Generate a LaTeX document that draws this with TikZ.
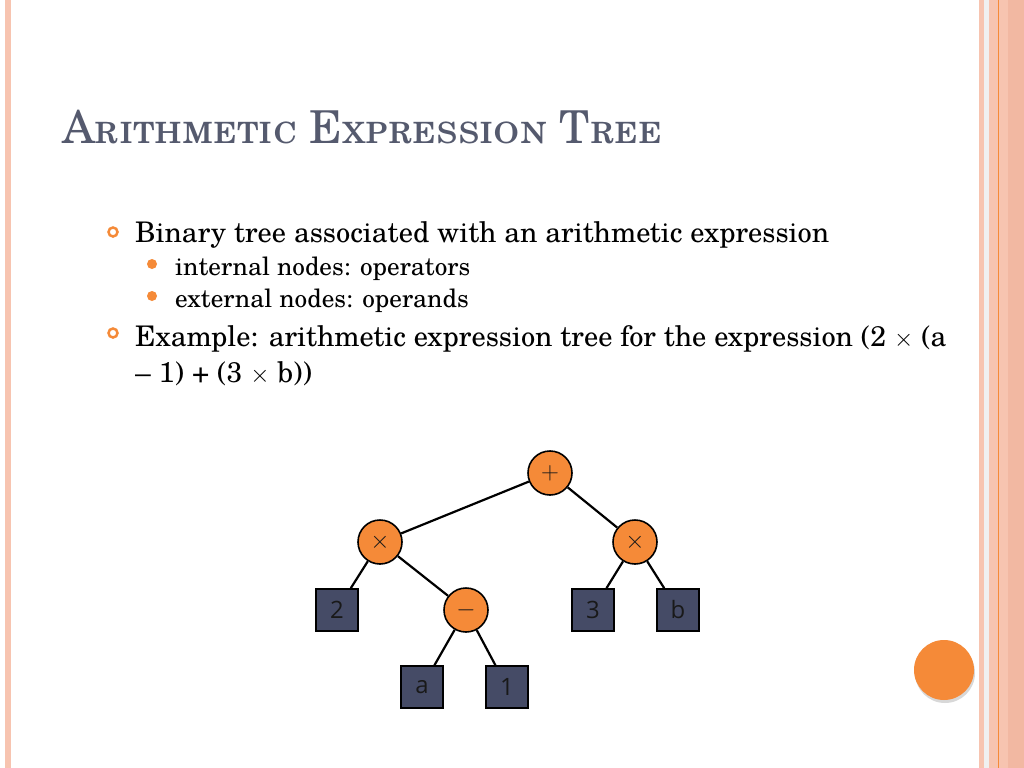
\documentclass[tikz,border=0pt]{standalone}
\usepackage{fontspec}
\usepackage{amsmath, tikz, xcolor}
\setmainfont{texgyreschola-regular.otf}[BoldFont=texgyreschola-bold.otf, ItalicFont=texgyreschola-italic.otf]
\newfontfamily\treefont{Open Sans}
\definecolor{salmon}{HTML}{F7C4B0}
\definecolor{salmondark}{HTML}{F2B8A2}
\definecolor{accent}{HTML}{F58A38}
\definecolor{slate}{HTML}{454B66}
\definecolor{titlegray}{HTML}{555A6E}
\tikzset{
  opnode/.style={circle, draw=black, line width=1.6bp, fill=accent, minimum size=44bp, inner sep=0pt, font=\treefont\fontsize{31}{31}\selectfont, text=black!90},
  leafnode/.style={rectangle, draw=black, line width=1.6bp, fill=slate, minimum size=42bp, inner sep=0pt, font=\treefont\fontsize{24}{24}\selectfont, text=black!90},
  edge/.style={line width=2.2bp}
}
\begin{document}
\begin{tikzpicture}[x=1bp, y=-1bp]
\useasboundingbox (0,0) rectangle (1024,768);
\fill[white] (0,0) rectangle (1024,768);
% side stripes
\fill[salmon] (5,0) rectangle (11,768);
\fill[salmon] (979,0) rectangle (984,768);
\fill[black!6] (984,0) rectangle (989,768);
\fill[salmon] (989,0) rectangle (1024,768);
\fill[salmondark] (1008,0) rectangle (1024,768);
\draw[accent, line width=1bp] (998,0) -- (998,768);
% title
\node[anchor=base west, inner sep=0pt, text=titlegray, font=\fontsize{45.5}{45.5}\selectfont] (title) at (62,143) {\textsc{Arithmetic Expression Tree}};
% bullets
\draw[accent, line width=2.5bp] (113,232) circle (4.5);
\node[anchor=base west, inner sep=0pt, font=\fontsize{28.5}{28.5}\selectfont] (b1) at (135,242) {Binary tree associated with an arithmetic expression};
\fill[accent] (152,264) circle (5);
\node[anchor=base west, inner sep=0pt, font=\fontsize{25.3}{25.3}\selectfont] (s1) at (175,275) {internal nodes: operators};
\fill[accent] (152,296) circle (5);
\node[anchor=base west, inner sep=0pt, font=\fontsize{25.3}{25.3}\selectfont] (s2) at (175,307) {external nodes: operands};
\draw[accent, line width=2.5bp] (113,333) circle (4.5);
\node[anchor=base west, inner sep=0pt, font=\fontsize{28.5}{28.5}\selectfont] (b2) at (135,346) {Example: arithmetic expression tree for the expression (2 $\times$ (a};
\node[anchor=base west, inner sep=0pt, font=\fontsize{28.5}{28.5}\selectfont] (b3) at (135,382) {-- 1) + (3 $\times$ b))};
% tree
\node[opnode] (plus) at (550,473) {$+$};
\node[opnode] (timesL) at (380,542) {$\times$};
\node[opnode] (timesR) at (635,542) {$\times$};
\node[opnode] (minus) at (466,610) {$-$};
\node[leafnode] (two) at (337,610) {2};
\node[leafnode] (three) at (593,610) {3};
\node[leafnode] (bvar) at (678,610) {b};
\node[leafnode] (avar) at (422,687) {a};
\node[leafnode] (one) at (507,687) {1};
\draw[edge] (plus) -- (timesL);
\draw[edge] (plus) -- (timesR);
\draw[edge] (timesL) -- (two);
\draw[edge] (timesL) -- (minus);
\draw[edge] (minus) -- (avar);
\draw[edge] (minus) -- (one);
\draw[edge] (timesR) -- (three);
\draw[edge] (timesR) -- (bvar);
% corner dot
\fill[black!30, opacity=0.5] (945,673) circle (30);
\fill[accent] (944,670) circle (30);
\end{tikzpicture}
\end{document}
